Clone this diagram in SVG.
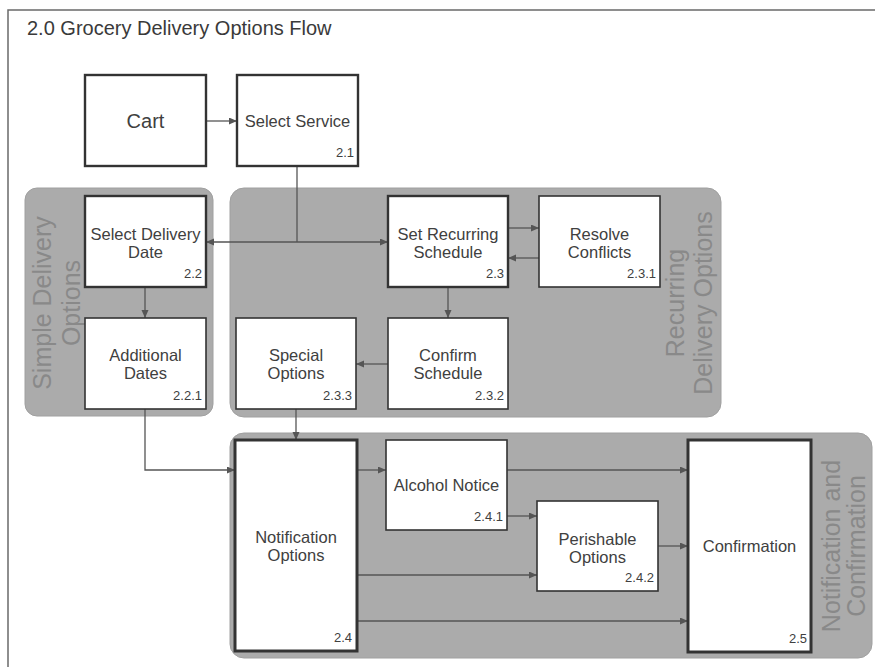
<svg xmlns="http://www.w3.org/2000/svg" width="875" height="667" viewBox="0 0 875 667">
<style>
.frame{fill:none;stroke:#6a6a6a;stroke-width:1.5}
.grp{fill:#ababab;stroke:#a0a0a0;stroke-width:1}
.glabel{font-family:"Liberation Sans",Arial,sans-serif;font-size:25px;fill:#898989;text-anchor:middle}
.box{fill:#ffffff;stroke:#333333;stroke-width:1.6}
.main{stroke-width:2.4}
.t{font-family:"Liberation Sans",Arial,sans-serif;font-size:16.5px;fill:#404040;text-anchor:middle}
.n{font-family:"Liberation Sans",Arial,sans-serif;font-size:13px;fill:#404040;text-anchor:end}
.c{fill:none;stroke:#555555;stroke-width:1.3}
.title{font-family:"Liberation Sans",Arial,sans-serif;font-size:20px;fill:#3a3a3a}
</style>
<defs>
<marker id="arr" markerUnits="userSpaceOnUse" markerWidth="9" markerHeight="8" refX="8" refY="3.5" orient="auto">
<path d="M0,0 L8,3.5 L0,7 z" fill="#555555"/>
</marker>
</defs>
<rect width="875" height="667" fill="#ffffff"/>
<rect class="frame" x="8" y="10" width="900" height="700"/>
<text class="title" x="27" y="35">2.0 Grocery Delivery Options Flow</text>

<g id="group-simple">
<rect class="grp" x="25" y="188" width="188" height="228" rx="12"/>
<text class="glabel" transform="translate(51,303) rotate(-90)">Simple Delivery</text>
<text class="glabel" transform="translate(80,303) rotate(-90)">Options</text>
</g>
<g id="group-recurring">
<rect class="grp" x="230" y="188" width="491" height="229" rx="14"/>
<text class="glabel" transform="translate(684,303) rotate(-90)">Recurring</text>
<text class="glabel" transform="translate(712,303) rotate(-90)">Delivery Options</text>
</g>
<g id="group-notification">
<rect class="grp" x="230" y="433" width="642" height="225" rx="14"/>
<text class="glabel" transform="translate(840,546) rotate(-90)">Notification and</text>
<text class="glabel" transform="translate(865,546) rotate(-90)">Confirmation</text>
</g>

<g id="connectors">
<line class="c" x1="206" y1="121" x2="237" y2="121" marker-end="url(#arr)"/>
<polyline class="c" points="297,166 297,242"/>
<line class="c" x1="297" y1="242" x2="206" y2="242" marker-end="url(#arr)"/>
<line class="c" x1="297" y1="242" x2="388" y2="242" marker-end="url(#arr)"/>
<line class="c" x1="508" y1="228" x2="539" y2="228" marker-end="url(#arr)"/>
<line class="c" x1="539" y1="258" x2="508" y2="258" marker-end="url(#arr)"/>
<line class="c" x1="448" y1="287" x2="448" y2="318" marker-end="url(#arr)"/>
<line class="c" x1="388" y1="364" x2="356" y2="364" marker-end="url(#arr)"/>
<line class="c" x1="145" y1="287" x2="145" y2="318" marker-end="url(#arr)"/>
<line class="c" x1="296" y1="409" x2="296" y2="440" marker-end="url(#arr)"/>
<polyline class="c" points="145,409 145,470 235,470" marker-end="url(#arr)"/>
<line class="c" x1="357" y1="470" x2="386" y2="470" marker-end="url(#arr)"/>
<line class="c" x1="507" y1="470" x2="688" y2="470" marker-end="url(#arr)"/>
<line class="c" x1="507" y1="516" x2="537" y2="516" marker-end="url(#arr)"/>
<line class="c" x1="357" y1="575" x2="537" y2="575" marker-end="url(#arr)"/>
<line class="c" x1="658" y1="546" x2="688" y2="546" marker-end="url(#arr)"/>
<line class="c" x1="357" y1="621" x2="688" y2="621" marker-end="url(#arr)"/>
</g>

<g id="cart">
<rect class="box main" x="85" y="75" width="121" height="91"/>
<text class="t" x="145.5" y="128" style="font-size:20px">Cart</text>
</g>
<g id="n2-1">
<rect class="box main" x="237" y="75" width="121" height="91"/>
<text class="t" x="297.5" y="127">Select Service</text>
<text class="n" x="354" y="157">2.1</text>
</g>
<g id="n2-2">
<rect class="box main" x="85" y="196" width="121" height="91"/>
<text class="t" x="145.5" y="240">Select Delivery</text>
<text class="t" x="145.5" y="258">Date</text>
<text class="n" x="202" y="278">2.2</text>
</g>
<g id="n2-2-1">
<rect class="box" x="85" y="318" width="121" height="91"/>
<text class="t" x="145.5" y="361">Additional</text>
<text class="t" x="145.5" y="379">Dates</text>
<text class="n" x="202" y="400">2.2.1</text>
</g>
<g id="n2-3">
<rect class="box main" x="388" y="196" width="120" height="91"/>
<text class="t" x="448" y="240">Set Recurring</text>
<text class="t" x="448" y="258">Schedule</text>
<text class="n" x="504" y="278">2.3</text>
</g>
<g id="n2-3-1">
<rect class="box" x="539" y="196" width="121" height="91"/>
<text class="t" x="599.5" y="240">Resolve</text>
<text class="t" x="599.5" y="258">Conflicts</text>
<text class="n" x="656" y="278">2.3.1</text>
</g>
<g id="n2-3-2">
<rect class="box" x="388" y="318" width="120" height="91"/>
<text class="t" x="448" y="361">Confirm</text>
<text class="t" x="448" y="379">Schedule</text>
<text class="n" x="504" y="400">2.3.2</text>
</g>
<g id="n2-3-3">
<rect class="box" x="236" y="318" width="120" height="91"/>
<text class="t" x="296" y="361">Special</text>
<text class="t" x="296" y="379">Options</text>
<text class="n" x="352" y="400">2.3.3</text>
</g>
<g id="n2-4">
<rect class="box main" x="235" y="440" width="122" height="211" style="stroke-width:3"/>
<text class="t" x="296" y="543">Notification</text>
<text class="t" x="296" y="561">Options</text>
<text class="n" x="352" y="642">2.4</text>
</g>
<g id="n2-4-1">
<rect class="box" x="386" y="440" width="121" height="90"/>
<text class="t" x="446.5" y="491">Alcohol Notice</text>
<text class="n" x="503" y="521">2.4.1</text>
</g>
<g id="n2-4-2">
<rect class="box" x="537" y="501" width="121" height="90"/>
<text class="t" x="597.5" y="545">Perishable</text>
<text class="t" x="597.5" y="563">Options</text>
<text class="n" x="654" y="582">2.4.2</text>
</g>
<g id="n2-5">
<rect class="box main" x="688" y="440" width="123" height="212" style="stroke-width:3"/>
<text class="t" x="749.5" y="552">Confirmation</text>
<text class="n" x="807" y="643">2.5</text>
</g>
</svg>
